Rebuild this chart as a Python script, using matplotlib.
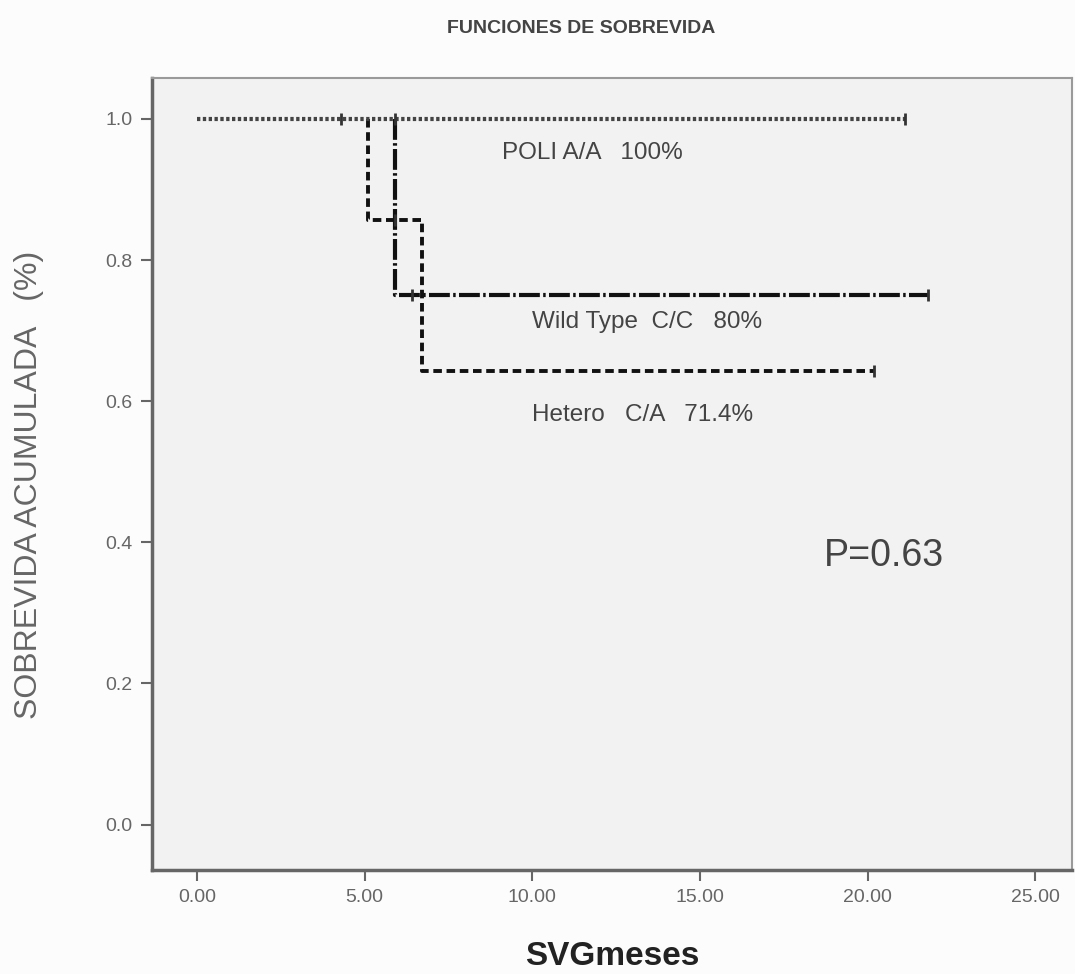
import numpy as np
import matplotlib
matplotlib.use("Agg")
import matplotlib.pyplot as plt

plt.rcParams['font.family'] = ['Liberation Sans', 'DejaVu Sans']

# Kaplan-Meier step data
poli_t = [0.0, 21.1]
poli_s = [1.0, 1.0]
poli_cens = [4.3, 5.9, 21.1]

wild_t = [0.0, 5.9, 5.9, 21.8]
wild_s = [1.0, 1.0, 0.75, 0.75]
wild_cens = [6.4, 21.8]

het_t = [0.0, 5.1, 5.1, 6.7, 6.7, 20.2]
het_s = [1.0, 1.0, 0.857, 0.857, 0.643, 0.643]
het_cens = [5.9, 20.2]

xticks = [0, 5, 10, 15, 20, 25]
yticks = [0.0, 0.2, 0.4, 0.6, 0.8, 1.0]

fig = plt.figure(figsize=(10.75, 9.74), dpi=100)
fig.patch.set_facecolor("#fcfcfc")
ax = fig.add_axes([0.1414, 0.107, 0.856, 0.813])
ax.set_facecolor("#f2f2f2")

# the part at 1.0 lies under the POLI line, so the others start at their first drop
ax.plot(wild_t[1:], wild_s[1:], color="#111111", lw=3, ls=(0, (5, 0.8, 0.6, 0.8)), zorder=2)
ax.plot(het_t[1:], het_s[1:], color="#111111", lw=2.8, ls=(0, (2.2, 1.2)), zorder=2)
ax.plot(poli_t, poli_s, color="#444444", lw=3, ls=(0, (0.8, 0.6)), zorder=3)

# censor marks
ax.plot(poli_cens, [1.0] * len(poli_cens), ls="none", marker="|", ms=9, mew=2, color="#333333", zorder=4)
ax.plot(wild_cens, [0.75] * len(wild_cens), ls="none", marker="|", ms=9, mew=2, color="#333333", zorder=4)
ax.plot(het_cens, [0.857, 0.643], ls="none", marker="|", ms=9, mew=2, color="#333333", zorder=4)

ax.set_xlim(-1.34, 26.1)
ax.set_ylim(-0.064, 1.058)
ax.set_xticks(xticks)
ax.set_xticklabels(["%.2f" % v for v in xticks])
ax.set_yticks(yticks)
ax.set_yticklabels(["%.1f" % v for v in yticks])
ax.tick_params(colors="#666666", labelsize=14, length=8, width=1.5, pad=6)

for s in ax.spines.values():
    s.set_color("#9a9a9a")
    s.set_linewidth(1.5)
ax.spines["left"].set_color("#666666")
ax.spines["bottom"].set_color("#666666")
ax.spines["left"].set_linewidth(2.5)
ax.spines["bottom"].set_linewidth(2.5)

ax.text(9.1, 0.952, "POLI A/A   100%", fontsize=17.5, color="#444444", va="center")
ax.text(10.0, 0.712, "Wild Type  C/C   80%", fontsize=17.5, color="#444444", va="center")
ax.text(10.0, 0.581, "Hetero   C/A   71.4%", fontsize=17.5, color="#444444", va="center")
ax.text(18.69, 0.380, "P=0.63", fontsize=27, color="#444444", va="center")

fig.text(0.541, 0.971, "FUNCIONES DE SOBREVIDA", ha="center", va="center",
         fontsize=14, fontweight="bold", color="#444444")
ax.set_xlabel("SVGmeses", fontsize=24, fontweight="bold", color="#222222")
ax.xaxis.set_label_coords(0.5, -0.11)
ax.xaxis.label.set_va("center")
ax.set_ylabel("SOBREVIDA ACUMULADA   (%)", fontsize=23, color="#666666")
ax.yaxis.set_label_coords(-0.134, 0.486)
ax.yaxis.label.set_va("center")

fig.savefig("out.png", dpi=100)
